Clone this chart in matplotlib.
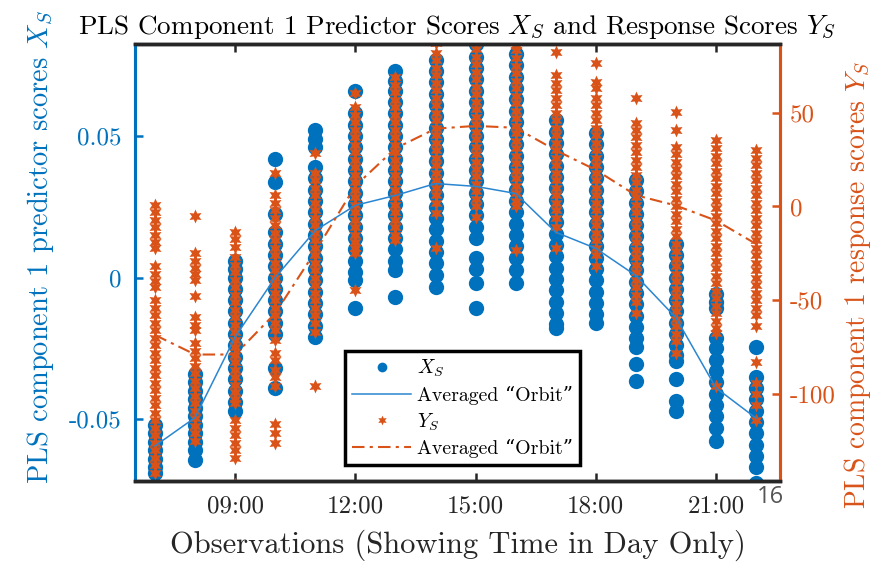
import numpy as np
import matplotlib
matplotlib.use("Agg")
import matplotlib.pyplot as plt
from matplotlib.lines import Line2D

plt.rcParams['font.family'] = ['cmr10', 'DejaVu Serif']
plt.rcParams['mathtext.fontset'] = 'cm'
plt.rcParams['axes.unicode_minus'] = False

# hours of day for each observation column
hours = [7, 8, 9, 10, 11, 12, 13, 14, 15, 16, 17, 18, 19, 20, 21, 22]

# predictor scores X_S (left axis), one list per hour
xs_07 = [-0.052, -0.055, -0.058, -0.061, -0.064, -0.067, -0.069]
xs_08 = [-0.034, -0.037, -0.040, -0.043, -0.046, -0.049, -0.052, -0.055, -0.058, -0.061, -0.0645]
xs_09 = [0.006, 0.003, 0.000, -0.004, -0.008, -0.012, -0.016, -0.020, -0.024, -0.028, -0.032,
         -0.036, -0.040, -0.044, -0.047]
xs_10 = [0.042, 0.0336, 0.0226, 0.016, 0.012, 0.008, 0.004, 0.000, -0.004, -0.008, -0.012,
         -0.016, -0.0198, -0.032, -0.039]
xs_11 = [0.052, 0.049, 0.046, 0.039, 0.035, 0.031, 0.027, 0.023, 0.019, 0.015, 0.011, 0.007,
         0.003, -0.001, -0.005, -0.009, -0.013, -0.017, -0.021]
xs_12 = [0.066, 0.058, 0.054, 0.050, 0.046, 0.042, 0.038, 0.034, 0.030, 0.026, 0.022, 0.018,
         0.014, 0.010, 0.006, 0.002, -0.001, -0.0106]
xs_13 = [0.073, 0.0695, 0.066, 0.062, 0.058, 0.054, 0.050, 0.046, 0.042, 0.038, 0.034, 0.030,
         0.026, 0.022, 0.018, 0.014, 0.010, 0.006, 0.0025, -0.007]
xs_14 = [0.0767, 0.073, 0.069, 0.065, 0.061, 0.057, 0.053, 0.049, 0.045, 0.041, 0.037, 0.033,
         0.029, 0.025, 0.021, 0.017, 0.013, 0.009, 0.005, 0.001, -0.0035]
xs_15 = [0.0825, 0.078, 0.074, 0.070, 0.066, 0.062, 0.058, 0.054, 0.050, 0.046, 0.042, 0.038,
         0.034, 0.030, 0.026, 0.022, 0.018, 0.014, 0.007, 0.003, -0.002, -0.0106]
xs_16 = [0.079, 0.075, 0.071, 0.067, 0.063, 0.059, 0.055, 0.051, 0.047, 0.043, 0.039, 0.035,
         0.031, 0.027, 0.023, 0.019, 0.015, 0.011, 0.007, 0.0025, -0.002]
xs_17 = [0.0555, 0.0515, 0.0475, 0.0435, 0.0395, 0.0355, 0.0315, 0.0275, 0.0235, 0.0195, 0.0155,
         0.0115, 0.0075, 0.0035, -0.0005, -0.0045, -0.0085, -0.0125, -0.0165, -0.0177]
xs_18 = [0.051, 0.047, 0.043, 0.039, 0.035, 0.031, 0.027, 0.023, 0.019, 0.015, 0.011, 0.007,
         0.003, -0.001, -0.005, -0.009, -0.013, -0.016]
xs_19 = [0.0343, 0.0305, 0.0265, 0.0225, 0.0185, 0.0145, 0.0105, 0.0065, 0.0025, -0.0015,
         -0.0055, -0.0095, -0.0135, -0.0175, -0.0215, -0.0247, -0.0304, -0.0364]
xs_20 = [0.012, 0.008, 0.004, 0.000, -0.004, -0.008, -0.012, -0.016, -0.020, -0.024, -0.0275,
         -0.0294, -0.0357, -0.0435, -0.047]
xs_21 = [-0.0057, -0.0085, -0.0106, -0.0213, -0.025, -0.029, -0.033, -0.037, -0.041, -0.045,
         -0.049, -0.053, -0.0576]
xs_22 = [-0.0247, -0.0353, -0.039, -0.043, -0.047, -0.051, -0.055, -0.059, -0.063, -0.067, -0.0725]

# response scores Y_S (right axis), one list per hour
ys_07 = [1, -3, -7, -11, -15, -19, -22, -32, -36, -40, -43, -50, -54, -58, -62, -66, -70, -74,
         -78, -82, -86, -90, -94, -98, -102, -106, -110, -114, -118, -122, -126, -130, -134, -138, -142]
ys_08 = [-5, -25, -29, -33, -36, -39, -48, -59, -63, -66, -73, -77, -81, -85, -89, -93, -97,
         -101, -105, -109, -113, -117, -121, -125]
ys_09 = [-13.5, -17.5, -21.5, -27, -31, -35, -39, -43, -47, -51, -55, -59, -63, -67, -71, -75,
         -79, -83, -87, -91, -95, -99, -103, -105, -114, -118, -122, -126, -130, -134, -148]
ys_10 = [18, 6, 2, -2, -6, -10, -14, -18, -22, -26, -30, -34, -38, -42, -46, -50, -54, -58,
         -62, -66, -71, -78, -82, -87, -91, -96, -116, -121, -126]
ys_11 = [28.5, 18, 14, 10, 6, 2, -2, -6, -10, -14, -18, -22, -26, -30, -34, -38, -42, -46,
         -50, -54, -58, -62, -67, -96]
ys_12 = [60.5, 53, 49, 45, 41, 37, 33, 29, 25, 21, 17, 13, 9, 5, 1, -3, -7, -11, -15, -19,
         -22, -25, -44.5]
ys_13 = [69, 65, 61, 57, 53, 49, 45, 41, 37, 33, 29, 25, 21, 17, 13, 9, 5, 1, -3, -7, -11, -15, -18]
ys_14 = [87, 82, 78, 74, 70, 66, 62, 58, 54, 50, 46, 42, 38, 34, 30, 26, 22, 18, 14, 10, 6, 2,
         -3.5, -22]
ys_15 = [88, 84, 80, 76, 72, 68, 64, 60, 56, 52, 48, 44, 40, 36, 32, 28, 24, 20, 16, 12, 8, 4,
         0, -5.6]
ys_16 = [86, 83.5, 79, 75, 71, 67, 63, 59, 55, 51, 47, 43, 39, 35, 31, 27, 23, 19, 15, 11, 7,
         3, 0, -23]
ys_17 = [82.5, 70, 66, 62, 58, 54, 50, 46, 42, 38, 34, 30, 26, 22, 18, 14, 10, 6, 2, -2, -6,
         -11, -22]
ys_18 = [76.5, 66.5, 63, 58, 54, 50, 46, 42, 38, 34, 30, 26, 22, 18, 14, 10, 6, 2, -2, -6,
         -10, -14, -18, -22, -26, -32]
ys_19 = [58, 44.5, 41, 37, 33, 29, 25, 21, 17, 13, 9, 5, 1, -3, -7, -11, -15, -19, -23, -27,
         -31, -35, -39, -43, -47, -51, -57]
ys_20 = [50.5, 41, 32, 28, 24, 20, 16, 12, 8, 4, 0, -4, -8, -12, -16, -20, -24, -28, -32, -36,
         -40, -44, -48, -52, -56, -60, -64, -68, -72, -78]
ys_21 = [35.5, 31, 27, 23, 19, 15, 11, 7, 3, -1, -5, -9, -13, -17, -21, -25, -29, -33, -37,
         -41, -45, -49, -53, -57, -61, -65, -67.5, -96]
ys_22 = [30, 26, 22, 18, 14, 10, 6, 2, -2, -6, -10, -14, -18, -22, -26, -30, -34, -38, -42,
         -46, -50, -54, -58, -64, -83, -94, -100, -106, -114]

# averaged "orbit" per hour
xs_mean = [-0.0595, -0.0495, -0.021, 0.0, 0.0166, 0.0255, 0.029, 0.0332, 0.0322, 0.0297,
           0.016, 0.0103, 0.0007, -0.0142, -0.039, -0.0497]
ys_mean = [-68.6, -79, -79, -57, -24, 11, 31, 41.5, 43, 42, 30, 19.5, 6, 0.5, -7.5, -20]

xs_by_hour = [xs_07, xs_08, xs_09, xs_10, xs_11, xs_12, xs_13, xs_14,
              xs_15, xs_16, xs_17, xs_18, xs_19, xs_20, xs_21, xs_22]
ys_by_hour = [ys_07, ys_08, ys_09, ys_10, ys_11, ys_12, ys_13, ys_14,
              ys_15, ys_16, ys_17, ys_18, ys_19, ys_20, ys_21, ys_22]

blue = '#0072BD'
orange = '#D95319'
dark = '#262626'

xs_x = np.concatenate([[h] * len(v) for h, v in zip(hours, xs_by_hour)])
xs_y = np.concatenate(xs_by_hour)
ys_x = np.concatenate([[h] * len(v) for h, v in zip(hours, ys_by_hour)])
ys_y = np.concatenate(ys_by_hour)

fig = plt.figure(figsize=(8.73, 5.62), dpi=100)
ax = fig.add_axes([0.1546, 0.1441, 0.739, 0.7776])
ax2 = ax.twinx()

ax.plot(xs_x, xs_y, 'o', color=blue, markersize=11, markeredgewidth=0, zorder=2)
ax2.plot(ys_x, ys_y, linestyle='none', marker=(6, 1, 0), color=orange, markersize=10,
         markeredgewidth=0, zorder=2)
# mean lines on top of both scatter clouds
ax2.plot(hours, xs_mean, '-', color='#2a86d0', lw=1.1, transform=ax.transData, zorder=3)
ax2.plot(hours, ys_mean, color=orange, lw=1.5, dashes=(6, 2.5, 1.5, 2.5), zorder=3)

ax.set_xlim(6.5, 22.6)
ax.set_ylim(-0.0719, 0.0825)
ax2.set_ylim(-146.5, 86.7)

ax.set_xticks([9, 12, 15, 18, 21])
ax.set_xticklabels(['09:00', '12:00', '15:00', '18:00', '21:00'])
ax.set_yticks([-0.05, 0, 0.05])
ax.set_yticklabels(['-0.05', '0', '0.05'])
ax2.set_yticks([-100, -50, 0, 50])
ax2.set_yticklabels(['-100', '-50', '0', '50'])

ax.tick_params(axis='x', direction='in', length=6, width=1.8, top=True, colors=dark,
               labelsize=18, pad=10)
ax.tick_params(axis='y', direction='in', length=6, width=1.8, colors=blue, labelsize=18, pad=10)
ax2.tick_params(axis='y', direction='in', length=6, width=1.8, colors=orange, labelsize=18, pad=7)

for a in (ax, ax2):
    a.spines['top'].set_color(dark)
    a.spines['bottom'].set_color(dark)
    a.spines['top'].set_linewidth(2.5)
    a.spines['bottom'].set_linewidth(2.5)
    a.spines['left'].set_color(blue)
    a.spines['left'].set_linewidth(2.2)
    a.spines['right'].set_color(orange)
    a.spines['right'].set_linewidth(2.2)

ax.set_ylabel(r'PLS component 1 predictor scores $X_S$', color=blue, fontsize=20.5,
              va='center')
ax2.set_ylabel(r'PLS component 1 response scores $Y_S$', color=orange, fontsize=20,
               va='center')
ax.yaxis.set_label_coords(-0.147, 0.537)
ax2.yaxis.set_label_coords(1.12, 0.45)
ax.set_xlabel('Observations (Showing Time in Day Only)', color=dark, fontsize=22)
ax.xaxis.set_label_coords(0.5, -0.112)
ax.set_title(r'PLS Component 1 Predictor Scores $X_S$ and Response Scores $Y_S$',
             fontsize=19.5, pad=7)

handles = [
    Line2D([], [], linestyle='none', marker='o', color=blue, markersize=7, markeredgewidth=0),
    Line2D([], [], color='#2a86d0', lw=1.1),
    Line2D([], [], linestyle='none', marker=(6, 1, 0), color=orange, markersize=7, markeredgewidth=0),
    Line2D([], [], color=orange, lw=1.5, dashes=(6, 2.5, 1.5, 2.5)),
]
labels = [r'$X_S$', 'Averaged \u201cOrbit\u201d', r'$Y_S$', 'Averaged \u201cOrbit\u201d']
leg = ax2.legend(handles, labels, loc='lower left', bbox_to_anchor=(0.395, 0.1726),
                 bbox_transform=fig.transFigure, borderaxespad=0, fontsize=14.3,
                 frameon=True, fancybox=False, framealpha=1, edgecolor='black',
                 handlelength=3.0, handletextpad=0.3, labelspacing=0.32, borderpad=0.35)
leg.get_frame().set_linewidth(2.5)
leg.set_zorder(10)

fig.text(0.882, 0.116, '16', fontsize=17, color='#555555', family='Open Sans',
         ha='center', va='center')

fig.savefig('out.png', dpi=100)
